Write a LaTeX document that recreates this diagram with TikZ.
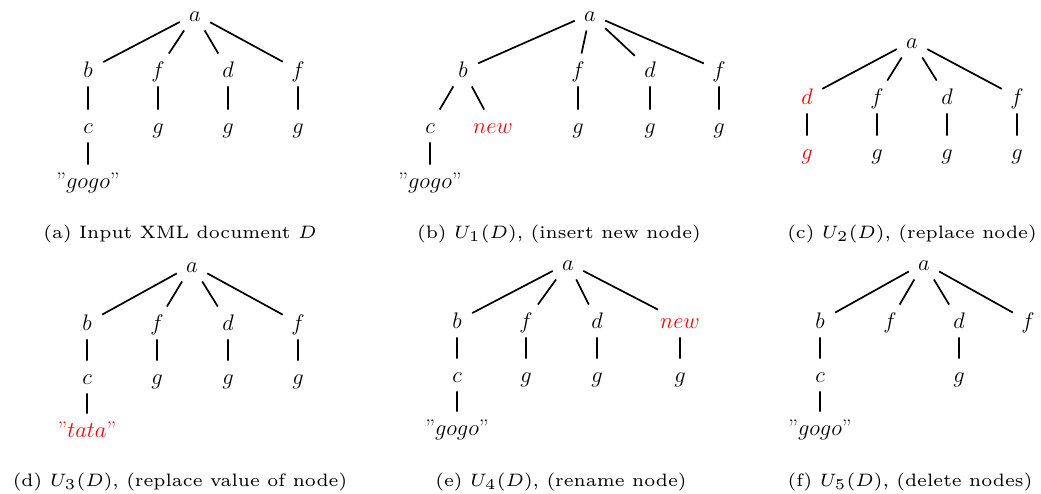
\RequirePackage{fix-cm}
\documentclass[tikz,border=0pt]{standalone}
\usepackage{graphicx}
\newcommand\tlfont{\fontsize{22.5}{27}\selectfont}
\newcommand\captext[1]{\scalebox{3.0}{\fontsize{6}{7}\selectfont #1}}
\newcommand\qq{\textquotedblright}
\tikzset{
  tn/.style={font=\tlfont, inner xsep=2pt, inner ysep=8.5pt, minimum width=30pt, text height=15.5pt, text depth=0pt},
  edg/.style={line width=1.7pt},
  captxt/.style={anchor=base, inner sep=0pt},
  hl/.style={text=red}
}
\begin{document}
\begin{tikzpicture}[x=1pt,y=-1pt]
\useasboundingbox (0,0) rectangle (1041,493);
% ---------- (a)
\node[tn] (aa) at (195,14) {$a$};
\node[tn] (ab) at (88,70) {$b$};
\node[tn] (af1) at (158,70) {$f$};
\node[tn] (ad) at (228,70) {$d$};
\node[tn] (af2) at (298,70) {$f$};
\node[tn] (ac) at (88,126) {$c$};
\node[tn] (ag1) at (158,126) {$g$};
\node[tn] (ag2) at (228,126) {$g$};
\node[tn] (ag3) at (298,126) {$g$};
\node[tn] (agogo) at (88,181) {\qq$gogo$\qq};
\draw[edg] (aa)--(ab) (aa)--(af1) (aa)--(ad) (aa)--(af2)
  (ab)--(ac) (af1)--(ag1) (ad)--(ag2) (af2)--(ag3) (ac)--(agogo);
\node[captxt] (acap) at (180,238) {\captext{(a) Input XML document $D$}};
% ---------- (b)
\node[tn] (ba) at (590,14) {$a$};
\node[tn] (bb) at (463,70) {$b$};
\node[tn] (bf1) at (578,70) {$f$};
\node[tn] (bd) at (650,70) {$d$};
\node[tn] (bf2) at (719,70) {$f$};
\node[tn] (bc) at (430,126) {$c$};
\node[tn,hl] (bnew) at (493,126) {$new$};
\node[tn] (bg1) at (578,126) {$g$};
\node[tn] (bg2) at (650,126) {$g$};
\node[tn] (bg3) at (719,126) {$g$};
\node[tn] (bgogo) at (430,181) {\qq$gogo$\qq};
\draw[edg] (ba)--(bb) (ba)--(bf1) (ba)--(bd) (ba)--(bf2)
  (bb)--(bc) (bb)--(bnew) (bf1)--(bg1) (bd)--(bg2) (bf2)--(bg3) (bc)--(bgogo);
\node[captxt] (bcap) at (559,238) {\captext{(b) $U_1(D)$, (insert new node)}};
% ---------- (c)
\node[tn] (ca) at (912,41) {$a$};
\node[tn,hl] (cd1) at (807,97) {$d$};
\node[tn] (cf1) at (877,97) {$f$};
\node[tn] (cd2) at (947,97) {$d$};
\node[tn] (cf2) at (1017,97) {$f$};
\node[tn,hl] (cg0) at (807,152) {$g$};
\node[tn] (cg1) at (877,152) {$g$};
\node[tn] (cg2) at (947,152) {$g$};
\node[tn] (cg3) at (1017,152) {$g$};
\draw[edg] (ca)--(cd1) (ca)--(cf1) (ca)--(cd2) (ca)--(cf2)
  (cd1)--(cg0) (cf1)--(cg1) (cd2)--(cg2) (cf2)--(cg3);
\node[captxt] (ccap) at (912,238) {\captext{(c) $U_2(D)$, (replace node)}};
% ---------- (d)
\node[tn] (da) at (192,265) {$a$};
\node[tn] (db) at (87,323) {$b$};
\node[tn] (df1) at (157,323) {$f$};
\node[tn] (dd) at (228,323) {$d$};
\node[tn] (df2) at (298,323) {$f$};
\node[tn] (dc) at (87,377) {$c$};
\node[tn] (dg1) at (157,377) {$g$};
\node[tn] (dg2) at (228,377) {$g$};
\node[tn] (dg3) at (298,377) {$g$};
\node[tn,hl] (dtata) at (87,430) {\qq$tata$\qq};
\draw[edg] (da)--(db) (da)--(df1) (da)--(dd) (da)--(df2)
  (db)--(dc) (df1)--(dg1) (dd)--(dg2) (df2)--(dg3) (dc)--(dtata);
\node[captxt] (dcap) at (180,486) {\captext{(d) $U_3(D)$, (replace value of node)}};
% ---------- (e)
\node[tn] (ea) at (568,263) {$a$};
\node[tn] (eb) at (457,321) {$b$};
\node[tn] (ef1) at (526,321) {$f$};
\node[tn] (ed) at (597,321) {$d$};
\node[tn,hl] (enew) at (680,321) {$new$};
\node[tn] (ec) at (457,375) {$c$};
\node[tn] (eg1) at (526,375) {$g$};
\node[tn] (eg2) at (597,375) {$g$};
\node[tn] (eg3) at (680,375) {$g$};
\node[tn] (egogo) at (457,428) {\qq$gogo$\qq};
\draw[edg] (ea)--(eb) (ea)--(ef1) (ea)--(ed) (ea)--(enew)
  (eb)--(ec) (ef1)--(eg1) (ed)--(eg2) (enew)--(eg3) (ec)--(egogo);
\node[captxt] (ecap) at (561,486) {\captext{(e) $U_4(D)$, (rename node)}};
% ---------- (f)
\node[tn] (fa) at (924,263) {$a$};
\node[tn] (fb) at (820,321) {$b$};
\node[tn] (ff1) at (890,321) {$f$};
\node[tn] (fd) at (959,321) {$d$};
\node[tn] (ff2) at (1028,321) {$f$};
\node[tn] (fc) at (820,375) {$c$};
\node[tn] (fg) at (959,375) {$g$};
\node[tn] (fgogo) at (820,428) {\qq$gogo$\qq};
\draw[edg] (fa)--(fb) (fa)--(ff1) (fa)--(fd) (fa)--(ff2)
  (fb)--(fc) (fd)--(fg) (fc)--(fgogo);
\node[captxt] (fcap) at (910,486) {\captext{(f) $U_5(D)$, (delete nodes)}};
\end{tikzpicture}
\end{document}
